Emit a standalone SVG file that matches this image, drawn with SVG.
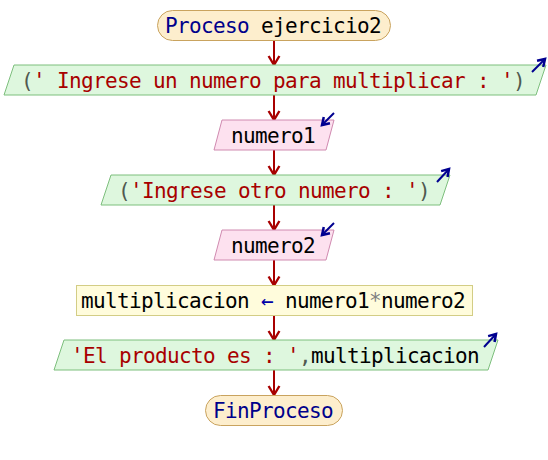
<svg xmlns="http://www.w3.org/2000/svg" width="548" height="460" viewBox="0 0 548 460">
<style>
text{font-family:"DejaVu Sans Mono","Liberation Mono",monospace;font-size:21px;letter-spacing:-0.64px;text-anchor:middle;fill:#000}
.term{fill:#fdeecd;stroke:#c9a35e;stroke-width:1}
.out{fill:#def7de;stroke:#7dbf7d;stroke-width:1}
.inp{fill:#fde1ef;stroke:#d08ab0;stroke-width:1}
.asg{fill:#fffcdc;stroke:#d3cd85;stroke-width:1}
.kw{fill:#00008b}
.str{fill:#a80000}
.op{fill:#505a50}
.gr{fill:#808080}
.ar{fill:#0000a8}
.conn line{stroke:#a80000;stroke-width:2;marker-end:url(#ah)}
.ico{stroke:#000090;stroke-width:2;marker-end:url(#ih)}
</style>
<defs>
<marker id="ah" markerUnits="userSpaceOnUse" markerWidth="12" markerHeight="12" refX="8" refY="5" orient="auto" viewBox="0 0 10 10" overflow="visible">
<path d="M0.5,0.5 L8,5 L0.5,9.5" fill="none" stroke="#a80000" stroke-width="2"/>
</marker>
<marker id="ih" markerUnits="userSpaceOnUse" markerWidth="10" markerHeight="10" refX="6" refY="4" orient="auto" viewBox="0 0 8 8" overflow="visible">
<path d="M0.5,0.5 L6,4 L0.5,7.5" fill="none" stroke="#000090" stroke-width="2"/>
</marker>
</defs>
<g id="connectors" class="conn">
<line x1="274" y1="40" x2="274" y2="65"/>
<line x1="274" y1="95" x2="274" y2="120"/>
<line x1="274" y1="150" x2="274" y2="175"/>
<line x1="274" y1="205" x2="274" y2="230"/>
<line x1="274" y1="260" x2="274" y2="285.5"/>
<line x1="274" y1="315.5" x2="274" y2="340"/>
<line x1="274" y1="370" x2="274" y2="395"/>
</g>
<g id="start">
<rect class="term" x="157.5" y="10.5" width="233" height="30" rx="15" ry="15"/>
<text x="273" y="33"><tspan class="kw">Proceso</tspan> ejercicio2</text>
</g>
<g id="out1">
<polygon class="out" points="14,65 546,65 536,95 4,95"/>
<text x="273" y="88"><tspan class="op">(</tspan><tspan class="str">' Ingrese un numero para multiplicar : '</tspan><tspan class="op">)</tspan></text>
<line class="ico" x1="532" y1="72" x2="545" y2="59"/>
</g>
<g id="in1">
<polygon class="inp" points="222,120 334,120 326,150 214,150"/>
<text x="273" y="143">numero1</text>
<line class="ico" x1="334" y1="113" x2="322" y2="125"/>
</g>
<g id="out2">
<polygon class="out" points="111,175 450,175 440,205 101,205"/>
<text x="274" y="198"><tspan class="op">(</tspan><tspan class="str">'Ingrese otro numero : '</tspan><tspan class="op">)</tspan></text>
<line class="ico" x1="437" y1="182" x2="449" y2="169"/>
</g>
<g id="in2">
<polygon class="inp" points="222,230 334,230 326,260 214,260"/>
<text x="273" y="253">numero2</text>
<line class="ico" x1="334" y1="223" x2="322" y2="235"/>
</g>
<g id="assign">
<rect class="asg" x="76.5" y="285.5" width="396" height="30"/>
<text x="273" y="308">multiplicacion <tspan class="ar">←</tspan> numero1<tspan class="gr">*</tspan>numero2</text>
</g>
<g id="out3">
<polygon class="out" points="64,340 498,340 488,370 54,370"/>
<text x="275" y="363"><tspan class="str">'El producto es : '</tspan><tspan class="op">,</tspan>multiplicacion</text>
<line class="ico" x1="484" y1="347" x2="496" y2="334"/>
</g>
<g id="end">
<rect class="term" x="205.5" y="395.5" width="137" height="30" rx="15" ry="15"/>
<text x="273" y="418" class="kw">FinProceso</text>
</g>
</svg>
